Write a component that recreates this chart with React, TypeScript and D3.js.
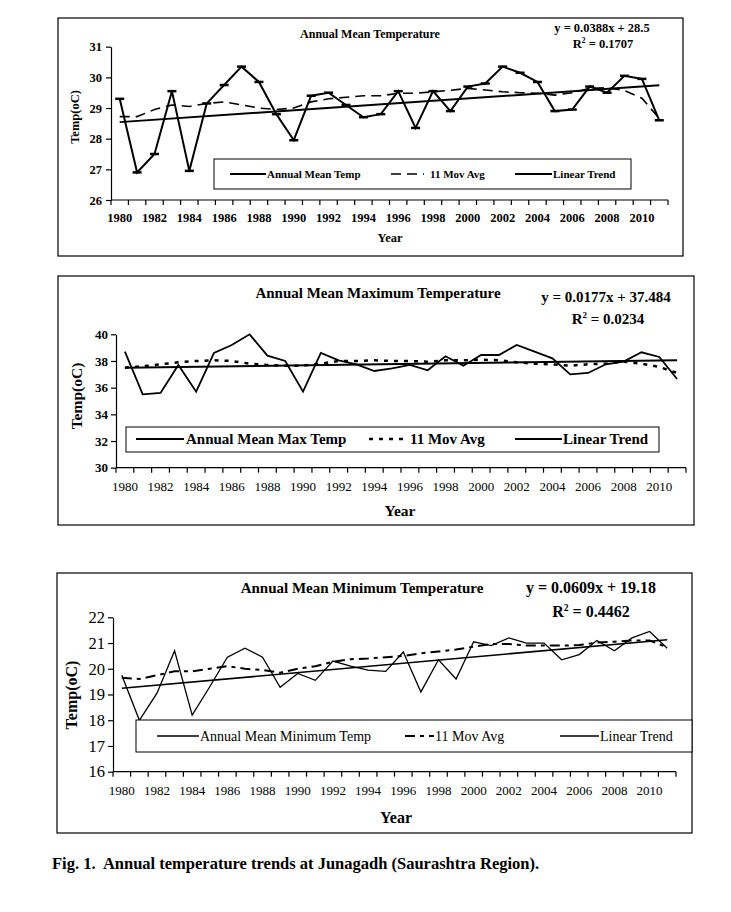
import React, { useEffect, useRef } from 'react';
import * as d3 from 'd3';

// categories
const years = d3.range(1980, 2012);
const xTickYears = years.filter(y => y % 2 === 0);

// Annual mean temperature (oC)
const meanTemp = [29.3, 26.9, 27.5, 29.55, 26.95, 29.15, 29.75, 30.35, 29.85, 28.8, 27.95, 29.4, 29.5, 29.1, 28.7, 28.8,
  29.55, 28.35, 29.55, 28.9, 29.7, 29.8, 30.35, 30.15, 29.85, 28.9, 28.95, 29.7, 29.5, 30.05, 29.95, 28.6];
const meanMov = [28.72, 28.72, 28.95, 29.1, 29.05, 29.15, 29.2, 29.1, 29.0, 28.95, 29.0, 29.2, 29.3, 29.35, 29.4, 29.4,
  29.48, 29.48, 29.53, 29.58, 29.64, 29.59, 29.53, 29.5, 29.48, 29.42, 29.5, 29.64, 29.66, 29.57, 29.32, 28.66];
const meanTrend = [28.54, 29.74];

// Annual mean maximum temperature (oC)
const maxTemp = [38.7, 35.5, 35.6, 37.7, 35.7, 38.6, 39.2, 40.0, 38.4, 38.0, 35.7, 38.6, 38.05, 37.75, 37.25, 37.45,
  37.7, 37.3, 38.35, 37.65, 38.45, 38.45, 39.2, 38.7, 38.2, 37.0, 37.1, 37.75, 37.95, 38.65, 38.3, 36.65];
const maxMov = [37.5, 37.6, 37.75, 37.9, 38.0, 38.05, 38.0, 37.8, 37.7, 37.65, 37.65, 37.8, 38.0, 38.0, 38.05, 38.0,
  38.0, 37.95, 38.05, 38.05, 38.1, 38.05, 37.9, 37.8, 37.75, 37.65, 37.75, 37.8, 37.95, 37.8, 37.55, 37.1];
const maxTrend = [37.5, 38.05];

// Annual mean minimum temperature (oC)
const minTemp = [19.75, 18.0, 19.05, 20.7, 18.2, 19.3, 20.45, 20.8, 20.45, 19.28, 19.82, 19.55, 20.3, 20.1, 19.95, 19.9,
  20.65, 19.1, 20.35, 19.6, 21.05, 20.9, 21.2, 21.0, 21.0, 20.35, 20.55, 21.1, 20.7, 21.2, 21.45, 20.8];
const minMov = [19.65, 19.6, 19.75, 19.9, 19.9, 20.0, 20.1, 20.0, 19.95, 19.85, 20.0, 20.1, 20.27, 20.37, 20.4, 20.45,
  20.5, 20.6, 20.67, 20.75, 20.86, 20.96, 20.96, 20.9, 20.9, 20.9, 20.92, 21.02, 21.05, 21.1, 21.1, 20.83];
const minTrend = [19.24, 21.13];

const FONT = '"Liberation Serif", "Times New Roman", serif';

type Kind = 'actual' | 'mov' | 'trend';
interface LegendItem { x0: number; x1: number; tx: number; label: string; kind: Kind; }
interface PanelCfg {
  frame: [number, number, number, number];
  plot: { left: number; right: number; top: number; bottom: number };
  yDomain: [number, number];
  yTicks: number[];
  actual: number[]; mov: number[]; trend: number[];
  title: string; titlePos: [number, number]; titleSize: number;
  eq: string; r2: string; eqPos: [number, number]; r2Pos: [number, number]; eqSize: number;
  yLabelPos: [number, number]; yLabelSize: number;
  xLabelPos: [number, number]; xLabelSize: number;
  yTickSize: number; yTickBold: boolean; yTickPad: number;
  xTickSize: number; xTickBold: boolean; xTickY: number;
  legend: { box: [number, number, number, number]; lineY: number; textY: number; size: number; bold: boolean; items: LegendItem[] };
  stroke: { actual: number; mov: number; movDash: string; trend: number };
  markers: boolean;
}

const panels: PanelCfg[] = [
  {
    frame: [58, 18, 683, 256],
    plot: { left: 111, right: 668, top: 46.7, bottom: 200 },
    yDomain: [26, 31], yTicks: [26, 27, 28, 29, 30, 31],
    actual: meanTemp, mov: meanMov, trend: meanTrend,
    title: 'Annual Mean Temperature', titlePos: [370, 38], titleSize: 12,
    eq: 'y = 0.0388x + 28.5', r2: ' = 0.1707', eqPos: [602, 32], r2Pos: [603, 48], eqSize: 12.5,
    yLabelPos: [79, 117], yLabelSize: 12.5,
    xLabelPos: [390, 242], xLabelSize: 12.5,
    yTickSize: 12.5, yTickBold: true, yTickPad: 4,
    xTickSize: 12.5, xTickBold: true, xTickY: 222,
    legend: {
      box: [214, 159, 631, 189], lineY: 174, textY: 178, size: 11, bold: true,
      items: [
        { x0: 230, x1: 266, tx: 267, label: 'Annual Mean Temp', kind: 'actual' },
        { x0: 391, x1: 424, tx: 430, label: '11 Mov Avg', kind: 'mov' },
        { x0: 515, x1: 552, tx: 553, label: 'Linear Trend', kind: 'trend' },
      ],
    },
    stroke: { actual: 2, mov: 1.6, movDash: '10,6', trend: 2 },
    markers: true,
  },
  {
    frame: [58, 276, 694, 525],
    plot: { left: 116, right: 686, top: 334.3, bottom: 467.7 },
    yDomain: [30, 40], yTicks: [30, 32, 34, 36, 38, 40],
    actual: maxTemp, mov: maxMov, trend: maxTrend,
    title: 'Annual Mean Maximum Temperature', titlePos: [378, 298], titleSize: 15,
    eq: 'y = 0.0177x + 37.484', r2: ' = 0.0234', eqPos: [606, 302], r2Pos: [608, 324], eqSize: 15,
    yLabelPos: [82, 396], yLabelSize: 15.5,
    xLabelPos: [400, 516], xLabelSize: 15.5,
    yTickSize: 13, yTickBold: true, yTickPad: 3,
    xTickSize: 13, xTickBold: false, xTickY: 491,
    legend: {
      box: [126, 427, 659, 452], lineY: 439, textY: 444, size: 15, bold: true,
      items: [
        { x0: 136, x1: 184, tx: 186, label: 'Annual Mean Max Temp', kind: 'actual' },
        { x0: 369, x1: 408, tx: 410, label: '11 Mov Avg', kind: 'mov' },
        { x0: 515, x1: 562, tx: 563, label: 'Linear Trend', kind: 'trend' },
      ],
    },
    stroke: { actual: 1.8, mov: 2.5, movDash: '4,6', trend: 2 },
    markers: false,
  },
  {
    frame: [57, 573, 692, 833],
    plot: { left: 113, right: 676, top: 617.3, bottom: 771.7 },
    yDomain: [16, 22], yTicks: [16, 17, 18, 19, 20, 21, 22],
    actual: minTemp, mov: minMov, trend: minTrend,
    title: 'Annual Mean Minimum Temperature', titlePos: [362, 593], titleSize: 15,
    eq: 'y = 0.0609x + 19.18', r2: ' = 0.4462', eqPos: [591, 593], r2Pos: [591, 617], eqSize: 16,
    yLabelPos: [77, 695], yLabelSize: 16,
    xLabelPos: [396, 823], xLabelSize: 16,
    yTickSize: 16.5, yTickBold: false, yTickPad: 3,
    xTickSize: 13, xTickBold: false, xTickY: 795,
    legend: {
      box: [136, 720, 692, 752], lineY: 736, textY: 741, size: 14, bold: false,
      items: [
        { x0: 157, x1: 199, tx: 200, label: 'Annual Mean Minimum Temp', kind: 'actual' },
        { x0: 405, x1: 434, tx: 435, label: '11 Mov Avg', kind: 'mov' },
        { x0: 560, x1: 599, tx: 600, label: 'Linear Trend', kind: 'trend' },
      ],
    },
    stroke: { actual: 1.3, mov: 2, movDash: '10,5,4,5', trend: 1.6 },
    markers: false,
  },
];

const drawPanel = (svg: d3.Selection<SVGSVGElement, unknown, null, undefined>, cfg: PanelCfg) => {
  const g = svg.append('g').style('font-family', FONT);
  const [fx0, fy0, fx1, fy1] = cfg.frame;
  g.append('rect').attr('x', fx0).attr('y', fy0).attr('width', fx1 - fx0).attr('height', fy1 - fy0)
    .attr('fill', 'white').attr('stroke', 'black').attr('stroke-width', 1.2);

  const x = d3.scaleBand<number>().domain(years).range([cfg.plot.left, cfg.plot.right]).padding(0);
  const y = d3.scaleLinear().domain(cfg.yDomain).range([cfg.plot.bottom, cfg.plot.top]);
  const cx = (yr: number) => (x(yr) as number) + x.bandwidth() / 2;

  // y axis
  const yAxis = g.append('g').attr('transform', `translate(${cfg.plot.left},0)`)
    .call(d3.axisLeft(y).tickValues(cfg.yTicks).tickSize(5).tickSizeOuter(0).tickPadding(cfg.yTickPad).tickFormat(d3.format('d')));
  yAxis.selectAll('path, line').attr('stroke', 'black').attr('stroke-width', 1.2);
  yAxis.selectAll('text').style('font-family', FONT).style('font-size', `${cfg.yTickSize}px`)
    .style('font-weight', cfg.yTickBold ? 'bold' : 'normal').attr('fill', 'black');

  // x axis (category ticks between bands)
  g.append('line').attr('x1', cfg.plot.left).attr('x2', cfg.plot.right)
    .attr('y1', cfg.plot.bottom).attr('y2', cfg.plot.bottom).attr('stroke', 'black').attr('stroke-width', 1.2);
  const edges = [...years.map(yr => x(yr) as number), cfg.plot.right];
  g.selectAll('.xtick').data(edges).enter().append('line')
    .attr('x1', d => d).attr('x2', d => d).attr('y1', cfg.plot.bottom).attr('y2', cfg.plot.bottom + 5)
    .attr('stroke', 'black').attr('stroke-width', 1.2);
  g.selectAll('.xlab').data(xTickYears).enter().append('text')
    .attr('x', d => cx(d)).attr('y', cfg.xTickY).attr('text-anchor', 'middle')
    .style('font-size', `${cfg.xTickSize}px`).style('font-weight', cfg.xTickBold ? 'bold' : 'normal')
    .text(d => String(d));

  // axis titles
  g.append('text').attr('transform', `translate(${cfg.yLabelPos[0]},${cfg.yLabelPos[1]}) rotate(-90)`)
    .attr('text-anchor', 'middle').style('font-size', `${cfg.yLabelSize}px`).style('font-weight', 'bold')
    .text('Temp(oC)');
  g.append('text').attr('x', cfg.xLabelPos[0]).attr('y', cfg.xLabelPos[1]).attr('text-anchor', 'middle')
    .style('font-size', `${cfg.xLabelSize}px`).style('font-weight', 'bold').text('Year');

  // title and equation
  g.append('text').attr('x', cfg.titlePos[0]).attr('y', cfg.titlePos[1]).attr('text-anchor', 'middle')
    .style('font-size', `${cfg.titleSize}px`).style('font-weight', 'bold').text(cfg.title);
  g.append('text').attr('x', cfg.eqPos[0]).attr('y', cfg.eqPos[1]).attr('text-anchor', 'middle')
    .style('font-size', `${cfg.eqSize}px`).style('font-weight', 'bold').text(cfg.eq);
  const r2 = g.append('text').attr('x', cfg.r2Pos[0]).attr('y', cfg.r2Pos[1]).attr('text-anchor', 'middle')
    .style('font-size', `${cfg.eqSize}px`).style('font-weight', 'bold');
  r2.append('tspan').text('R');
  r2.append('tspan').attr('dy', -cfg.eqSize * 0.4).style('font-size', `${cfg.eqSize * 0.6}px`).text('2');
  r2.append('tspan').attr('dy', cfg.eqSize * 0.4).text(cfg.r2);

  // series
  const line = d3.line<number>().x((_, i) => cx(years[i])).y(d => y(d));
  g.append('path').attr('d', line(cfg.mov) as string).attr('fill', 'none').attr('stroke', 'black')
    .attr('stroke-width', cfg.stroke.mov).attr('stroke-dasharray', cfg.stroke.movDash);
  const trendLine = d3.line<number>().x((_, i) => cx(i === 0 ? years[0] : years[years.length - 1])).y(d => y(d));
  g.append('path').attr('d', trendLine(cfg.trend) as string).attr('fill', 'none').attr('stroke', 'black')
    .attr('stroke-width', cfg.stroke.trend);
  g.append('path').attr('d', line(cfg.actual) as string).attr('fill', 'none').attr('stroke', 'black')
    .attr('stroke-width', cfg.stroke.actual).attr('stroke-linejoin', 'miter');
  if (cfg.markers) {
    g.selectAll('.mk').data(cfg.actual).enter().append('line')
      .attr('x1', (_, i) => cx(years[i]) - 4.5).attr('x2', (_, i) => cx(years[i]) + 4.5)
      .attr('y1', d => y(d)).attr('y2', d => y(d)).attr('stroke', 'black').attr('stroke-width', 2.5);
  }

  // legend
  const lg = cfg.legend;
  g.append('rect').attr('x', lg.box[0]).attr('y', lg.box[1]).attr('width', lg.box[2] - lg.box[0])
    .attr('height', lg.box[3] - lg.box[1]).attr('fill', 'white').attr('stroke', 'black').attr('stroke-width', 1);
  lg.items.forEach(it => {
    const sw = it.kind === 'mov' ? cfg.stroke.mov : it.kind === 'trend' ? cfg.stroke.trend : cfg.stroke.actual;
    g.append('line').attr('x1', it.x0).attr('x2', it.x1).attr('y1', lg.lineY).attr('y2', lg.lineY)
      .attr('stroke', 'black').attr('stroke-width', sw)
      .attr('stroke-dasharray', it.kind === 'mov' ? cfg.stroke.movDash : null);
    g.append('text').attr('x', it.tx).attr('y', lg.textY).style('font-size', `${lg.size}px`)
      .style('font-weight', lg.bold ? 'bold' : 'normal').text(it.label);
  });
};

const App: React.FC = () => {
  const ref = useRef<SVGSVGElement>(null);

  useEffect(() => {
    if (!ref.current) return;
    const svg = d3.select(ref.current);
    svg.selectAll('*').remove();
    svg.append('rect').attr('width', 731).attr('height', 912).attr('fill', 'white');
    panels.forEach(p => drawPanel(svg, p));
    svg.append('text').attr('x', 52).attr('y', 869).style('font-family', FONT)
      .style('font-size', '16.5px').style('font-weight', 'bold').style('white-space', 'pre')
      .text('Fig. 1.  Annual temperature trends at Junagadh (Saurashtra Region).');
  }, []);

  return (
    <svg ref={ref} width={731} height={912} style={{ position: 'absolute', left: 0, top: 0, display: 'block' }} />
  );
};

export default App;
